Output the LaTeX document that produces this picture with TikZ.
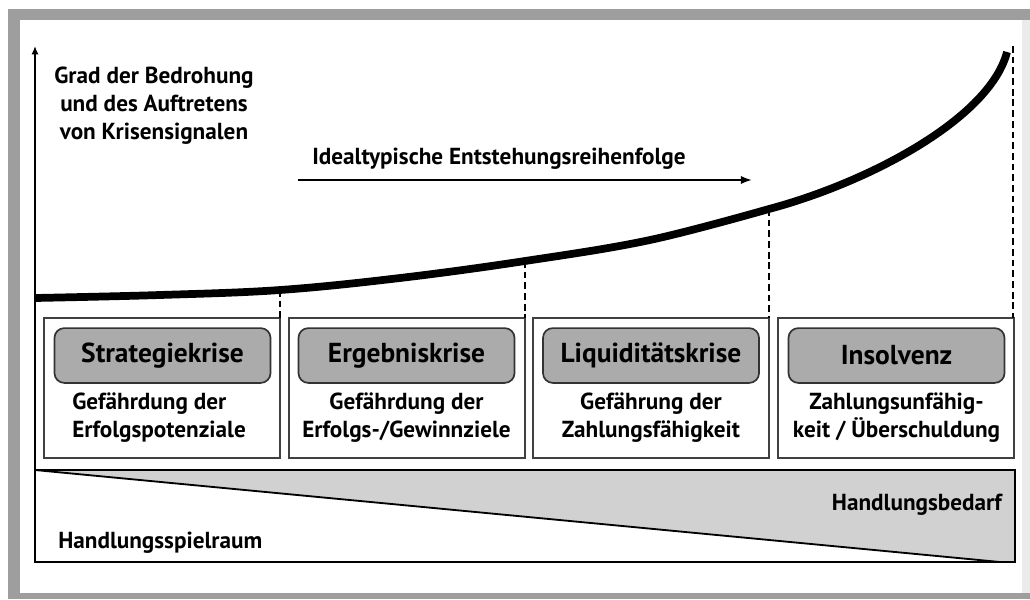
\documentclass[tikz,border=0pt]{standalone}
\usepackage{fontspec}
\setmainfont{PT Sans}
\usetikzlibrary{arrows.meta}

\begin{document}
\begin{tikzpicture}[x=0.025cm,y=-0.025cm,
  txt/.style={font=\bfseries\fontsize{16.5}{20}\selectfont,align=center,inner sep=0pt},
  phase/.style={draw=black!75,line width=1pt},
  krise/.style={draw=black!80,fill=black!33,line width=1.2pt,rounded corners=7pt,
    minimum width=5.4cm,minimum height=1.37cm,font=\bfseries\fontsize{19.5}{23}\selectfont},
  grenze/.style={line width=1.8pt,dash pattern=on 4.8pt off 2.8pt}]
\useasboundingbox (0,0) rectangle (1030,599);
% Rahmen
\fill[black!38] (8,9) rectangle (1030,599);
\fill[black!8] (1022,20) rectangle (1030,593);
\fill[white] (20,20) rectangle (1022,593);

% Handlungsspielraum / Handlungsbedarf
\coordinate (hl) at (35,470);
\coordinate (hr) at (1015,470);
\coordinate (hu) at (1015,562);
\coordinate (hs) at (1000,562);
\fill[black!18] (hl) -- (hr) -- (hu) -- (hs) -- cycle;
\draw[line width=1.3pt] (hl) -- (hs);
\draw[line width=2pt] (hl) rectangle (hu);
\node[txt,anchor=west] (raum) at (58,543) {Handlungsspielraum};
\node[txt,anchor=east] (bedarf) at (1002,505) {Handlungsbedarf};

% Achse
\coordinate (a0) at (35,470);
\coordinate (a1) at (35,46);
\draw[line width=1pt,-{Latex[length=6pt,width=5pt]}] (a0) -- (a1);
\node[txt] (grad) at (154,106) {Grad der Bedrohung\\und des Auftretens\\von Krisensignalen};

% Reihenfolge
\coordinate (r0) at (298,180);
\coordinate (r1) at (752,180);
\draw[line width=1.4pt,-{Latex[length=8pt,width=6pt]}] (r0) -- (r1);
\node[txt,anchor=south west] (folge) at (312,170) {Idealtypische Entstehungsreihenfolge};

% Phasen
\draw[phase] (44,318) rectangle (280,458);
\draw[phase] (289,318) rectangle (525,458);
\draw[phase] (533,318) rectangle (769,458);
\draw[phase] (778,318) rectangle (1014,458);

\node[krise] (strat) at (162.5,355.5) {Strategiekrise};
\node[krise] (ergeb) at (406.5,355.5) {Ergebniskrise};
\node[krise] (liqui) at (651,355.5) {Liquiditätskrise};
\node[krise] (insol) at (896.5,355.5) {Insolvenz};

\node[txt,align=left,anchor=west] (strattxt) at (72,418) {Gefährdung der\\Erfolgspotenziale};
\node[txt] (ergebtxt) at (406.5,418) {Gefährdung der\\Erfolgs-/Gewinnziele};
\node[txt] (liquitxt) at (651,418) {Gefährung der\\Zahlungsfähigkeit};
\node[txt] (insoltxt) at (896.5,418) {Zahlungsunfähig-\\keit / Überschuldung};

% Krisenverlauf
\coordinate (k1) at (280,290);
\coordinate (k2) at (525,261);
\coordinate (k3) at (769,209);
\coordinate (k4) at (1013,46);
\draw[line width=5.5pt] plot[smooth,tension=0.6] coordinates
  {(35,298) (160,295) (k1) (400,278) (k2) (650,240) (k3)}
  .. controls (870,182) and (990,118) .. (1007,52);

% Grenzen
\draw[grenze] (k1) -- (280,318);
\draw[grenze] (k2) -- (525,318);
\draw[grenze] (k3) -- (769,318);
\draw[grenze] (k4) -- (1013,318);
\end{tikzpicture}
\end{document}
